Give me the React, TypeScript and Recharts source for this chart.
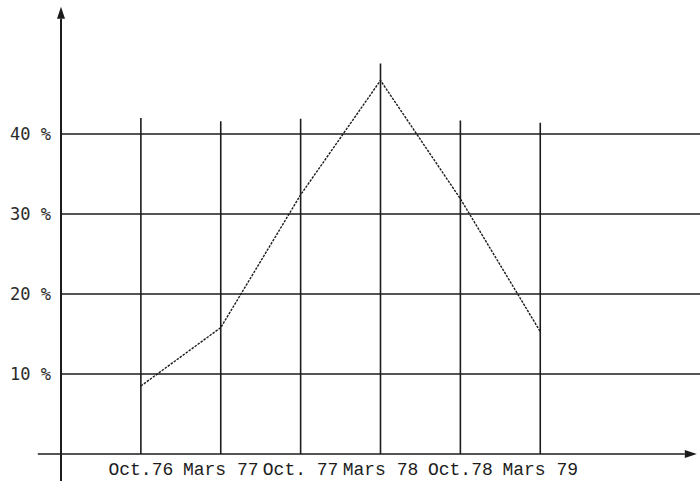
import { Line, LineChart, ReferenceLine, XAxis, YAxis } from "recharts"

const dates = ["Oct.76", "Mars 77", "Oct. 77", "Mars 78", "Oct.78", "Mars 79"]
const shares = [8.5, 15.8, 32.4, 46.7, 31.9, 15.3]
const yTicks = [10, 20, 30, 40]
// how far up each vertical rule was drawn, in % units
const ruleTops = [42, 41.6, 41.9, 48.8, 41.7, 41.4]

const INK = "#1c1c1c"

const data = dates.map((label, i) => ({ pos: i + 1, label, share: shares[i] }))

function ArrowLine(props: any) {
  const { x1, y1, x2, y2, stroke, strokeWidth } = props
  const a = Math.atan2(y2 - y1, x2 - x1)
  const len = 12
  const half = 4
  const bx = x2 - len * Math.cos(a)
  const by = y2 - len * Math.sin(a)
  const px = -Math.sin(a) * half
  const py = Math.cos(a) * half
  return (
    <g>
      <line x1={x1} y1={y1} x2={bx} y2={by} stroke={stroke} strokeWidth={strokeWidth} />
      <polygon points={`${x2},${y2} ${bx + px},${by + py} ${bx - px},${by - py}`} fill={stroke} />
    </g>
  )
}

export default function App() {
  return (
    <div style={{ position: "absolute", left: 0, top: 0, background: "#fff" }}>
      <LineChart width={700} height={481} data={data} margin={{ top: 6, right: 0, left: 0, bottom: 0 }}>
        <XAxis
          dataKey="pos"
          type="number"
          domain={[0, 8]}
          ticks={data.map((d) => d.pos)}
          tickFormatter={(v) => dates[v - 1]}
          interval={0}
          height={27}
          axisLine={false}
          tickLine={false}
          tickSize={0}
          tickMargin={8}
          tick={{ fontFamily: "Liberation Mono", fontSize: 18, fill: INK }}
        />
        <YAxis
          type="number"
          domain={[0, 56]}
          ticks={yTicks}
          tickFormatter={(v) => `${v} %`}
          width={61}
          axisLine={false}
          tickLine={false}
          tickSize={0}
          tickMargin={10}
          tick={{ fontFamily: "DejaVu Sans Mono", fontSize: 17, fill: "#2a2a2a" }}
        />
        {yTicks.map((t) => (
          <ReferenceLine key={t} y={t} stroke={INK} strokeWidth={1.5} ifOverflow="visible" />
        ))}
        {data.map((d, i) => (
          <ReferenceLine
            key={d.label}
            segment={[
              { x: d.pos, y: 0 },
              { x: d.pos, y: ruleTops[i] },
            ]}
            stroke={INK}
            strokeWidth={1.6}
            ifOverflow="visible"
          />
        ))}
        <ReferenceLine
          segment={[
            { x: -0.29, y: 0 },
            { x: 7.96, y: 0 },
          ]}
          stroke={INK}
          strokeWidth={1.6}
          ifOverflow="visible"
          shape={ArrowLine}
        />
        <ReferenceLine
          segment={[
            { x: 0, y: -3.5 },
            { x: 0, y: 55.9 },
          ]}
          stroke={INK}
          strokeWidth={2}
          ifOverflow="visible"
          shape={ArrowLine}
        />
        <Line
          type="linear"
          dataKey="share"
          stroke={INK}
          strokeWidth={1.4}
          strokeDasharray="2.5 1.2"
          dot={false}
          isAnimationActive={false}
        />
      </LineChart>
    </div>
  )
}
